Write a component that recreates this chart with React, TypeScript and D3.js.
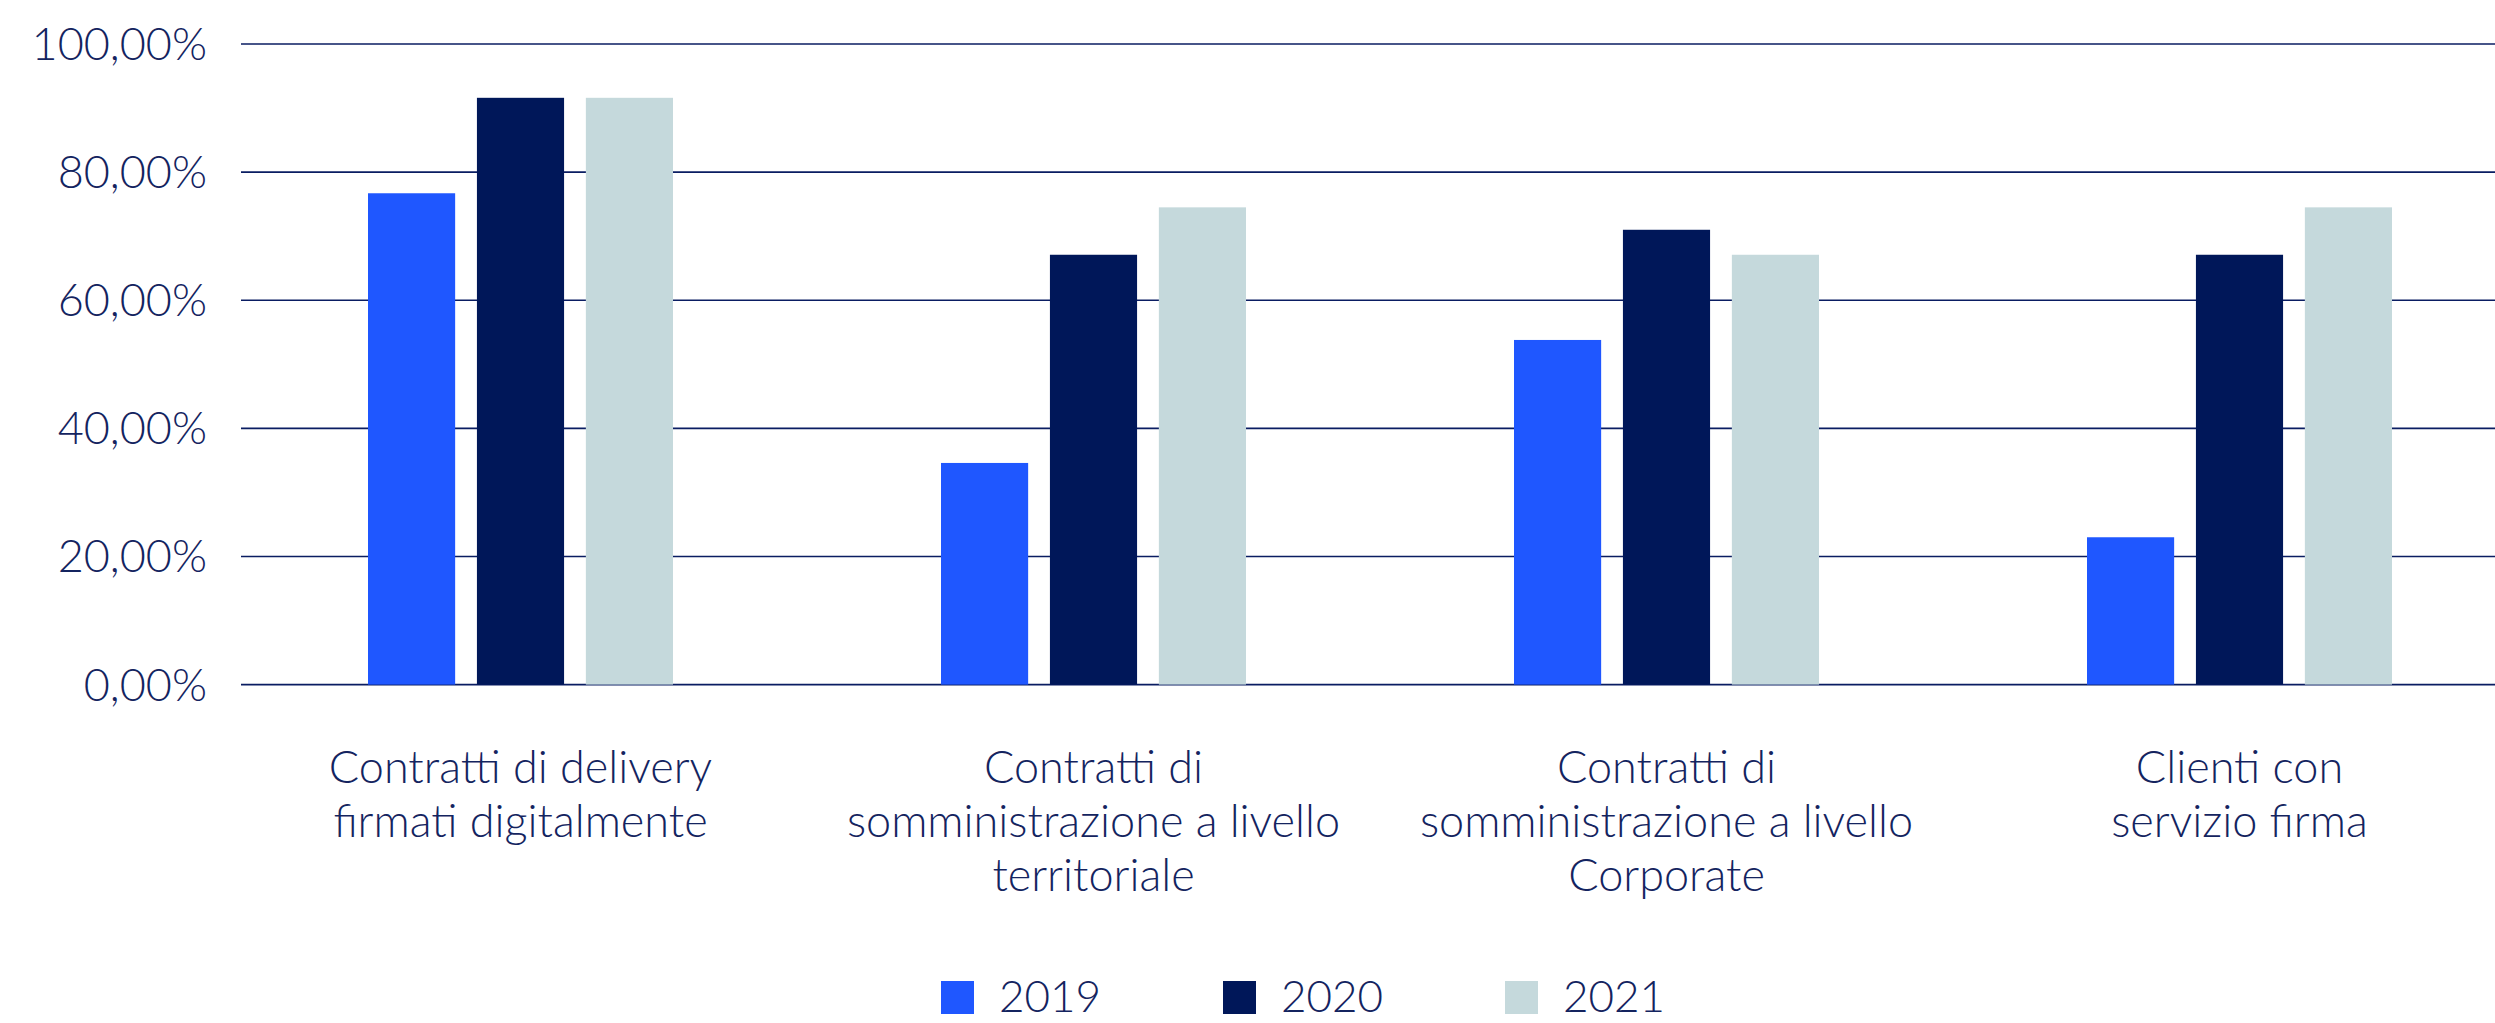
import { useEffect, useRef } from 'react';
import * as d3 from 'd3';

const categories = [
  ['Contratti di delivery', 'firmati digitalmente'],
  ['Contratti di', 'somministrazione a livello', 'territoriale'],
  ['Contratti di', 'somministrazione a livello', 'Corporate'],
  ['Clienti con', 'servizio firma'],
];
const years = ['2019', '2020', '2021'];
const values2019 = [0.767, 0.346, 0.538, 0.23];
const values2020 = [0.916, 0.671, 0.71, 0.671];
const values2021 = [0.916, 0.745, 0.671, 0.745];
const yTicks = [0, 0.2, 0.4, 0.6, 0.8, 1];

const colors = ['#1f57ff', '#001759', '#c5d9dc'];
const textColor = '#14245f';

export default function App() {
  const rootRef = useRef<HTMLDivElement | null>(null);

  useEffect(() => {
    const container = rootRef.current;
    if (!container) return undefined;

    const width = 2495;
    const height = 1023;
    const font = 'Lato, "Open Sans", sans-serif';

    d3.select(container).selectAll('*').remove();

    const svg = d3
      .select(container)
      .append('svg')
      .attr('width', width)
      .attr('height', height)
      .style('display', 'block');

    const series = [values2019, values2020, values2021];
    const idx = categories.map((_, i) => i);

    const x0 = d3.scaleBand<number>().domain(idx).range([234, 2526]);
    const groupHalf = 152.5;
    const x1 = d3
      .scaleBand<number>()
      .domain([0, 1, 2])
      .range([x0.bandwidth() / 2 - groupHalf, x0.bandwidth() / 2 + groupHalf])
      .paddingInner(0.2);
    const y = d3.scaleLinear().domain([0, 1]).range([684.6, 44]);

    const it = d3.formatLocale({ decimal: ',', thousands: '.', grouping: [3], currency: ['€', ''] });
    const fmt = it.format('.2%');

    // grid
    svg
      .append('g')
      .selectAll('line')
      .data(yTicks)
      .join('line')
      .attr('x1', 241)
      .attr('x2', width)
      .attr('y1', d => y(d))
      .attr('y2', d => y(d))
      .attr('stroke', '#0a1d62')
      .attr('stroke-width', 1.6);

    svg
      .append('g')
      .selectAll('text')
      .data(yTicks)
      .join('text')
      .attr('x', 207)
      .attr('y', d => y(d) + 16)
      .attr('text-anchor', 'end')
      .attr('font-family', font)
      .attr('font-weight', 300)
      .attr('font-size', 45)
      .attr('fill', textColor)
      .text(d => fmt(d));

    // bars
    series.forEach((vals, s) => {
      svg
        .append('g')
        .selectAll('rect')
        .data(vals)
        .join('rect')
        .attr('x', (_, i) => (x0(i) as number) + (x1(s) as number))
        .attr('width', x1.bandwidth())
        .attr('y', d => y(d))
        .attr('height', d => y(0) - y(d))
        .attr('fill', colors[s]);
    });

    // category labels
    const labels = svg.append('g');
    categories.forEach((lines, i) => {
      const t = labels
        .append('text')
        .attr('text-anchor', 'middle')
        .attr('font-family', font)
        .attr('font-weight', 300)
        .attr('font-size', 45)
        .attr('fill', textColor);
      lines.forEach((line, j) => {
        t.append('tspan')
          .attr('x', (x0(i) as number) + x0.bandwidth() / 2)
          .attr('y', 783 + j * 54)
          .text(line);
      });
    });

    // legend (lifted a little so the year labels stay inside the frame)
    const lx = d3.scalePoint<string>().domain(years).range([941, 1505]);
    const legend = svg.append('g');
    years.forEach((yr, i) => {
      legend
        .append('rect')
        .attr('x', lx(yr) as number)
        .attr('y', 981)
        .attr('width', 33)
        .attr('height', 33)
        .attr('fill', colors[i]);
      legend
        .append('text')
        .attr('x', (lx(yr) as number) + 58)
        .attr('y', 1012)
        .attr('font-family', font)
        .attr('font-weight', 300)
        .attr('font-size', 44)
        .attr('fill', textColor)
        .text(yr);
    });

    return () => {
      d3.select(container).selectAll('*').remove();
    };
  }, []);

  return <div ref={rootRef} style={{ position: 'absolute', left: 0, top: 0 }} />;
}
